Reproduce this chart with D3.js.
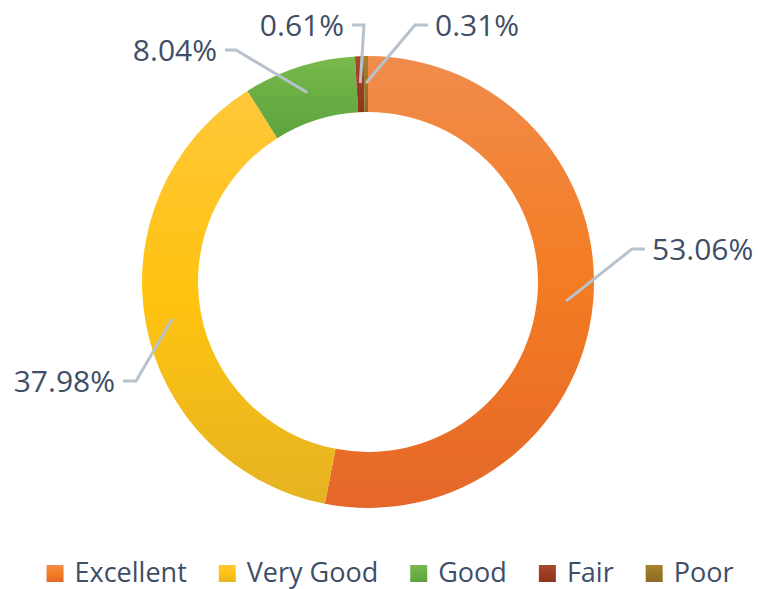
<!DOCTYPE html>
<html>
<head>
<meta charset="utf-8">
<script src="https://cdn.jsdelivr.net/npm/d3@7"></script>
<style>
  html, body { margin: 0; padding: 0; background: #fff; }
  svg { display: block; }
  text { font-family: "Open Sans", "Noto Sans", sans-serif; fill: #3e4e66; }
</style>
</head>
<body>
<div id="chart"></div>
<script>
// chart values
const categories = ["Excellent", "Very Good", "Good", "Fair", "Poor"];
const shares = [53.06, 37.98, 8.04, 0.61, 0.31];
const topColors = ["#f08c4c", "#ffc73a", "#7bb94d", "#a9482b", "#a7822f"];
const midColors = ["#f47c22", "#ffc30f", "#69ae44", "#9c3d22", "#9a7628"];
const bottomColors = ["#e4672a", "#e5b322", "#5ea23e", "#8d351b", "#8c6a22"];

// where each leader line bends and where its label sits
const labelSpots = [
    { bx: 632, by: 249, tx: 645, side: "start" },
    { bx: 136, by: 381, tx: 123, side: "end" },
    { bx: 236, by: 50, tx: 225, side: "end" },
    { bx: 364, by: 25, tx: 352, side: "end" },
    { bx: 415, by: 25, tx: 428, side: "start" }
];

const width = 758;
const height = 589;
const cx = 368, cy = 282;
const outerR = 226, innerR = 170;

const svg = d3.select("#chart")
    .append("svg")
    .attr("width", width)
    .attr("height", height);

const defs = svg.append("defs");
categories.forEach((c, i) => {
    const g = defs.append("linearGradient")
        .attr("id", "grad" + i)
        .attr("x1", 0).attr("y1", 0)
        .attr("x2", 0).attr("y2", 1);
    g.append("stop").attr("offset", "0%").attr("stop-color", topColors[i]);
    g.append("stop").attr("offset", "50%").attr("stop-color", midColors[i]);
    g.append("stop").attr("offset", "100%").attr("stop-color", bottomColors[i]);
});

const pie = d3.pie().sort(null).value(d => d)(shares);
const arc = d3.arc().innerRadius(innerR).outerRadius(outerR);
const midArc = d3.arc().innerRadius(199).outerRadius(199);

const ring = svg.append("g").attr("transform", `translate(${cx},${cy})`);
ring.selectAll("path")
    .data(pie)
    .enter()
    .append("path")
    .attr("d", arc)
    .attr("fill", (d, i) => `url(#grad${i})`);

// leader lines + labels
const fmt = d => d3.format(".2f")(d) + "%";
pie.forEach((d, i) => {
    const p = midArc.centroid(d);
    const s = labelSpots[i];
    svg.append("polyline")
        .attr("points", [[cx + p[0], cy + p[1]], [s.bx, s.by], [s.tx, s.by]].map(q => q.join(",")).join(" "))
        .attr("fill", "none")
        .attr("stroke", "#b7c2cf")
        .attr("stroke-width", 3);
    svg.append("text")
        .attr("x", s.side === "start" ? s.tx + 7 : s.tx - 8)
        .attr("y", s.by)
        .attr("dy", "0.35em")
        .attr("text-anchor", s.side)
        .style("font-size", "30px")
        .text(fmt(shares[i]));
});

// legend
const legend = svg.append("g");
const items = legend.selectAll("g")
    .data(categories)
    .enter()
    .append("g");
items.append("rect")
    .attr("width", 17).attr("height", 17)
    .attr("y", -17)
    .attr("fill", (d, i) => `url(#grad${i})`);
items.append("text")
    .attr("x", 28)
    .style("font-size", "27px")
    .text(d => d);

let xpos = 0;
items.each(function () {
    const w = this.querySelector("text").getComputedTextLength();
    d3.select(this).attr("transform", `translate(${xpos},0)`);
    xpos += 28 + w + 32;
});
const totalW = xpos - 32;
legend.attr("transform", `translate(${390 - totalW / 2},582)`);
</script>
</body>
</html>
